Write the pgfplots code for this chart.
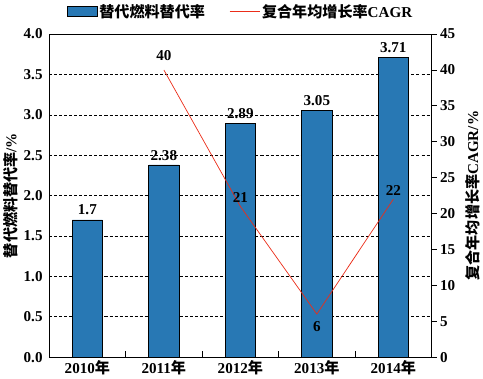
\documentclass[border=0pt]{standalone}
\usepackage{pgfplots}
\pgfplotsset{compat=1.18}
\usepackage{fontspec}
\setmainfont{Liberation Serif}
\newfontfamily\cjk{Noto Sans CJK SC}
\definecolor{barblue}{RGB}{40,120,180}
\definecolor{linered}{RGB}{235,45,25}
\newcommand{\ff}{\bfseries\fontsize{15}{17}\selectfont}
\pgfplotsset{
  mybarlegend/.style={legend image code/.code={\draw[##1] (0pt,-4.5pt) rectangle (30pt,4.5pt);}},
  mylinelegend/.style={legend image code/.code={\draw[##1] (0pt,0pt) -- (30pt,0pt);}},
}
\begin{document}
\begin{tikzpicture}[font=\ff]
\begin{axis}[
  scale only axis, width=380pt, height=321pt,
  xmin=-0.5, xmax=4.5, ymin=0, ymax=4,
  /pgf/number format/assume math mode=true,
  ytick={0,0.5,...,4}, ytick pos=left,
  yticklabel style={/pgf/number format/fixed, /pgf/number format/fixed zerofill, /pgf/number format/precision=1, xshift=-3pt},
  ticklabel style={font=\ff},
  ymajorgrids, grid style={dash pattern=on 3pt off 2pt, black, line width=0.6pt},
  major y tick style={draw=none},
  xtick={0,1,2,3,4}, xticklabels={2010{\cjk 年},2011{\cjk 年},2012{\cjk 年},2013{\cjk 年},2014{\cjk 年}},
  major x tick style={draw=none},
  minor xtick={0.5,1.5,2.5,3.5}, minor tick length=6pt, xtick pos=bottom, xtick align=inside,
  minor x tick style={black, line width=0.8pt},
  axis line style={black, line width=0.9pt},
  ylabel={{\cjk 替代燃料替代率}/\%}, ylabel style={yshift=-1pt},
  legend style={at={(0.5,1.035)}, anchor=south, legend columns=2, draw=none, fill=none,
    font=\ff,
    /tikz/every even column/.append style={column sep=22pt}},
  legend cell align=left,
]
\addplot[ybar, bar width=30pt, fill=barblue, draw=black, line width=0.6pt,
  point meta=explicit symbolic, nodes near coords,
  nodes near coords style={font=\ff, black, yshift=1pt},
  mybarlegend]
  coordinates {(0,1.7) [1.7] (1,2.38) [2.38] (2,2.89) [2.89] (3,3.05) [3.05] (4,3.71) [3.71]};
\addlegendentry{{\cjk 替代燃料替代率}}
\addlegendimage{linered, line width=0.7pt, mylinelegend}
\addlegendentry{{\cjk 复合年均增长率}CAGR}
\end{axis}
\begin{axis}[
  scale only axis, width=380pt, height=321pt,
  xmin=-0.5, xmax=4.5, ymin=0, ymax=45,
  axis x line=none, axis y line*=right,
  /pgf/number format/assume math mode=true,
  ytick={0,5,...,45}, ytick align=outside, major tick length=5pt,
  ticklabel style={font=\ff},
  y axis line style={black, line width=0.9pt},
  major y tick style={black, line width=0.8pt},
  ylabel={{\cjk 复合年均增长率}CAGR/\%}, ylabel style={yshift=-3pt},
]
\addplot[linered, line width=0.7pt] coordinates {(1,40) (2,21) (3,6) (4,22)};
\addplot[draw=none, point meta=explicit symbolic, nodes near coords,
  nodes near coords style={anchor=center, yshift=14pt, black, font=\ff}]
  coordinates {(1,40) [40]};
\addplot[draw=none, point meta=explicit symbolic, nodes near coords,
  nodes near coords style={anchor=center, yshift=9pt, black, font=\ff}]
  coordinates {(2,21) [21] (4,22) [22]};
\addplot[draw=none, point meta=explicit symbolic, nodes near coords,
  nodes near coords style={anchor=center, yshift=-12pt, black, font=\ff}]
  coordinates {(3,6) [6]};
\end{axis}
\end{tikzpicture}
\end{document}
